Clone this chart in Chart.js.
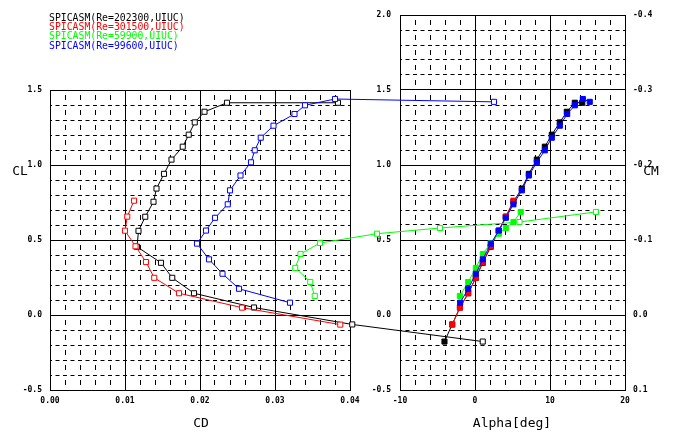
<!DOCTYPE html>
<html>
<head>
<meta charset="utf-8">
<script src="https://cdn.jsdelivr.net/npm/chart.js@4.4.1/dist/chart.umd.min.js"></script>
<style>
    body { margin: 0; background: #fff; }
    #wrap { position: relative; width: 675px; height: 440px; overflow: hidden; background: #fff; }
    #wrap canvas { position: absolute; left: 0; top: 0; }
    .txt { position: absolute; font-family: "DejaVu Sans Mono", monospace; white-space: pre; line-height: 1; }
    .leg { left: 49px; font-size: 9.8px; }
    .title { font-size: 13px; color: #000; transform: translate(-50%, -50%); }
</style>
</head>
<body>
<div id="wrap">
    <canvas id="cdGrid" width="675" height="440"></canvas>
    <canvas id="alphaChart" width="675" height="440"></canvas>
    <canvas id="polarChart" width="675" height="440"></canvas>
    <div class="txt title" style="left:20px;top:170px">CL</div>
    <div class="txt title" style="left:651px;top:170px">CM</div>
    <div class="txt title" style="left:201px;top:422px">CD</div>
    <div class="txt title" style="left:512px;top:422px">Alpha[deg]</div>
</div>
<script>
const seriesNames = ['SPICASM(Re=202300,UIUC)', 'SPICASM(Re=301500,UIUC)', 'SPICASM(Re=59900,UIUC)', 'SPICASM(Re=99600,UIUC)'];
const seriesColors = ['#000000', '#ff0000', '#00ff00', '#0000ff'];

// Re=202300
const alpha202 = [-4.07, -3.04, -2.0, -0.91, 0.11, 1.04, 2.1, 3.15, 4.11, 5.13, 6.24, 7.18, 8.24, 9.31, 10.24, 11.31, 12.24, 13.31, 14.3];
const cl202 = [-0.177, -0.063, 0.05, 0.145, 0.248, 0.348, 0.455, 0.561, 0.655, 0.755, 0.843, 0.941, 1.036, 1.122, 1.202, 1.284, 1.355, 1.415, 1.415];
const cd202 = [0.0577, 0.0403, 0.0272, 0.0192, 0.0163, 0.0148, 0.0116, 0.0118, 0.0127, 0.0138, 0.0142, 0.0152, 0.0162, 0.0177, 0.0185, 0.0193, 0.0206, 0.0236, 0.0384];

// Re=301500
const alpha301 = [-3.04, -2.02, -0.91, 0.11, 1.04, 2.07, 3.18, 4.11, 5.13];
const cl301 = [-0.064, 0.049, 0.145, 0.248, 0.353, 0.458, 0.562, 0.656, 0.762];
const cd301 = [0.0387, 0.0256, 0.0172, 0.0139, 0.0128, 0.0114, 0.0100, 0.0103, 0.0112];

// Re=59900
const alpha599 = [-2.02, -0.91, 0.11, 1.04, 2.1, 3.18, 4.11, 5.13, 6.1];
const cl599 = [0.127, 0.22, 0.314, 0.407, 0.48, 0.542, 0.58, 0.62, 0.687];
const cd599 = [0.0353, 0.0347, 0.0327, 0.0334, 0.0360, 0.0436, 0.0520, 0.0626, 0.0728];

// Re=99600
const alpha996 = [-1.98, -0.91, 0.11, 1.04, 2.11, 3.18, 4.11, 5.13, 6.24, 7.18, 8.24, 9.31, 10.24, 11.31, 12.29, 13.31, 14.38, 15.3];
const cl996 = [0.082, 0.175, 0.275, 0.371, 0.476, 0.563, 0.648, 0.738, 0.831, 0.93, 1.018, 1.098, 1.182, 1.262, 1.34, 1.398, 1.44, 1.421];
const cd996 = [0.0320, 0.0252, 0.0230, 0.0212, 0.0196, 0.0208, 0.0220, 0.0237, 0.0240, 0.0254, 0.0268, 0.0273, 0.0281, 0.0298, 0.0326, 0.0340, 0.0380, 0.0592];

// axis ticks
const cdTicks = [0, 0.01, 0.02, 0.03, 0.04];
const cdTickLabels = ['0.00', '0.01', '0.02', '0.03', '0.04'];
const clTicksLeft = [-0.5, 0, 0.5, 1.0, 1.5];
const clTickLabelsLeft = ['-0.5', '0.0', '0.5', '1.0', '1.5'];
const clTicksRight = [-0.5, 0, 0.5, 1.0, 1.5, 2.0];
const clTickLabelsRight = ['-0.5', '0.0', '0.5', '1.0', '1.5', '2.0'];
const alphaTicks = [-10, 0, 10, 20];
const alphaTickLabels = ['-10', '0', '10', '20'];
const cmTicks = [-0.4, -0.3, -0.2, -0.1, 0, 0.1];
const cmTickLabels = ['-0.4', '-0.3', '-0.2', '-0.1', '0.0', '0.1'];

const alphaSets = [[alpha202, cl202], [alpha301, cl301], [alpha599, cl599], [alpha996, cl996]];
const polarSets = [[cd202, cl202], [cd301, cl301], [cd599, cl599], [cd996, cl996]];

// legend text
seriesNames.forEach((name, i) => {
    const el = document.createElement('div');
    el.className = 'txt leg';
    el.style.top = (12.6 + i * 9.33) + 'px';
    el.style.color = seriesColors[i];
    el.textContent = name;
    document.getElementById('wrap').appendChild(el);
});

const tickFont = { family: 'DejaVu Sans Mono', size: 8, weight: 'bold' };
// dashed minor grid: vertical lines are drawn top->bottom, horizontal ones left->right
const vDash = [5, 10], vDashOffset = 10;
const hDash = [4, 3.5], hDashOffset = 2;

function steps(min, max, n) {
    const out = [];
    for (let i = 0; i <= n; i++) out.push(min + (max - min) * i / n);
    return out;
}

function majorAxis(pos, min, max, values, labels, pad, size) {
    const horiz = pos === 'top' || pos === 'bottom';
    return {
        type: 'linear', position: pos, axis: horiz ? 'x' : 'y', min: min, max: max,
        afterBuildTicks: s => { s.ticks = values.map(v => ({ value: v })); },
        afterFit: s => { if (horiz) s.height = size; else s.width = size; },
        ticks: { callback: (v, i) => labels[i], font: tickFont, color: '#000', padding: pad, autoSkip: false, maxRotation: 0 },
        grid: { color: '#000', lineWidth: 1, drawTicks: false },
        border: { display: true, color: '#000', width: 1 }
    };
}

function minorAxis(pos, min, max, values) {
    const horiz = pos === 'top' || pos === 'bottom';
    return {
        type: 'linear', position: pos, axis: horiz ? 'x' : 'y', min: min, max: max,
        afterBuildTicks: s => { s.ticks = values.map(v => ({ value: v })); },
        afterFit: s => { if (horiz) s.height = 0; else s.width = 0; },
        ticks: { display: false },
        grid: { color: '#000', lineWidth: 1, drawTicks: false },
        border: { display: false, dash: horiz ? vDash : hDash, dashOffset: horiz ? vDashOffset : hDashOffset }
    };
}

const baseOptions = {
    responsive: false,
    animation: false,
    events: [],
    plugins: { legend: { display: false }, tooltip: { enabled: false } }
};

// left panel: CL vs CD grid and axes
new Chart(document.getElementById('cdGrid'), {
    type: 'scatter',
    data: { datasets: [] },
    options: {
        ...baseOptions,
        layout: { padding: { left: 0, top: 90, right: 325, bottom: 0 } },
        scales: {
            xm: minorAxis('top', 0, 0.04, steps(0, 0.04, 20)),
            ym: minorAxis('right', -0.5, 1.5, steps(-0.5, 1.5, 20)),
            x: majorAxis('bottom', 0, 0.04, cdTicks, cdTickLabels, 6, 50),
            y: majorAxis('left', -0.5, 1.5, clTicksLeft, clTickLabelsLeft, 8, 50)
        }
    }
});

// right panel: CL vs alpha with CM axis
new Chart(document.getElementById('alphaChart'), {
    type: 'scatter',
    data: {
        datasets: alphaSets.map((s, i) => ({
            label: seriesNames[i],
            data: s[0].map((a, j) => ({ x: a, y: s[1][j] })),
            showLine: true,
            borderColor: seriesColors[i],
            borderWidth: 1,
            backgroundColor: seriesColors[i],
            pointStyle: 'rect',
            pointRadius: 3.6,
            pointBorderWidth: 1,
            pointBorderColor: seriesColors[i],
            pointBackgroundColor: seriesColors[i],
            order: 4 - i,
            xAxisID: 'x',
            yAxisID: 'y'
        }))
    },
    options: {
        ...baseOptions,
        layout: { padding: { left: 360, top: 15, right: 0, bottom: 0 } },
        scales: {
            xm: minorAxis('top', -10, 20, steps(-10, 20, 15)),
            ym: minorAxis('right', -0.5, 2.0, steps(-0.5, 2.0, 25)),
            x: majorAxis('bottom', -10, 20, alphaTicks, alphaTickLabels, 6, 50),
            y: majorAxis('left', -0.5, 2.0, clTicksRight, clTickLabelsRight, 9, 40),
            cm: Object.assign(majorAxis('right', -0.4, 0.1, cmTicks, cmTickLabels, 8, 50), {
                reverse: true,
                grid: { display: false, drawTicks: false },
                border: { display: false }
            })
        }
    }
});

// drag polar, drawn over both panels (CD points past 0.04 are not clipped)
new Chart(document.getElementById('polarChart'), {
    type: 'scatter',
    data: {
        datasets: polarSets.map((s, i) => ({
            label: seriesNames[i],
            data: s[0].map((cd, j) => ({ x: cd, y: s[1][j] })),
            showLine: true,
            borderColor: seriesColors[i],
            borderWidth: 1,
            pointStyle: 'rect',
            pointRadius: 3.6,
            pointBorderWidth: 1,
            pointBorderColor: seriesColors[i],
            pointBackgroundColor: '#ffffff',
            order: 4 - i
        }))
    },
    options: {
        ...baseOptions,
        layout: { padding: { left: 50, top: 90, right: 25, bottom: 50 } },
        scales: {
            x: { type: 'linear', display: false, min: 0, max: 0.08 },
            y: { type: 'linear', display: false, min: -0.5, max: 1.5 }
        }
    }
});
</script>
</body>
</html>
